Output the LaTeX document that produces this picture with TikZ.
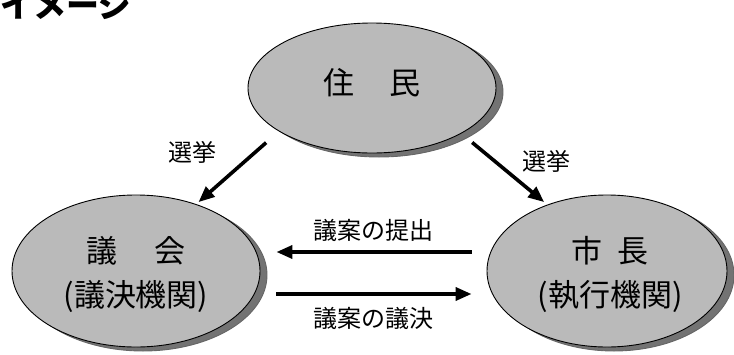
\documentclass[tikz,border=0pt]{standalone}
\usepackage{fontspec}
\newfontfamily\jpfont{Noto Sans CJK JP}
\usetikzlibrary{shapes.geometric,shadows,arrows.meta}

\begin{document}
\begin{tikzpicture}[x=1pt, y=-1pt,
  blob/.style = {shape=ellipse, draw=black, line width=0.9pt,
    fill=black!27, inner sep=0pt,
    copy shadow={shadow xshift=7pt, shadow yshift=-4pt,
      fill=black!55, draw=black!60}},
  big/.style = {font=\jpfont\fontsize{31}{44}\selectfont, align=center},
  small/.style = {font=\jpfont\fontsize{24}{28}\selectfont},
  arr/.style = {line width=3.6pt, -{Triangle[length=16pt,width=13pt]}}]
  \useasboundingbox (0,0) rectangle (734,354);
  \node[anchor=base west, font=\jpfont\bfseries\fontsize{33}{33}\selectfont]
    (title) at (-3,17) {イメージ};
  \node[blob, minimum width=248pt, minimum height=130pt] (jumin) at (372,88) {};
  \node[blob, minimum width=248pt, minimum height=152pt] (gikai) at (136,271) {};
  \node[blob, minimum width=240pt, minimum height=152pt] (shicho) at (607,271) {};
  \node[big] (jumintext) at ([yshift=5pt]jumin.center) {住\hspace{1.1em}民};
  \node[big] (gikaitext) at ([yshift=-3pt]gikai.center) {議\hspace{1.2em}会\\(議決機関)};
  \node[big] (shichotext) at ([yshift=-3pt,xshift=3pt]shicho.center) {市\hspace{0.5em}長\\(執行機関)};
  \draw[arr, shorten <=17pt, shorten >=3pt] (jumin.205.8) -- (gikai.48)
    node[small, midway, xshift=-45pt, yshift=15pt] (senkyoL) {選挙};
  \draw[arr, shorten <=14pt, shorten >=4pt] (jumin.333.4) -- (shicho.132.8)
    node[small, midway, xshift=42pt, yshift=8pt] (senkyoR) {選挙};
  \draw[arr, shorten <=15pt, shorten >=16pt]
    ([yshift=19pt]shicho.west) -- ([yshift=19pt]gikai.east)
    node[small, midway, above=5pt] (teishutsu) {議案の提出};
  \draw[arr, shorten <=16pt, shorten >=15pt]
    ([yshift=-23pt]gikai.east) -- ([yshift=-23pt]shicho.west)
    node[small, midway, below=8pt] (giketsu) {議案の議決};
\end{tikzpicture}
\end{document}
